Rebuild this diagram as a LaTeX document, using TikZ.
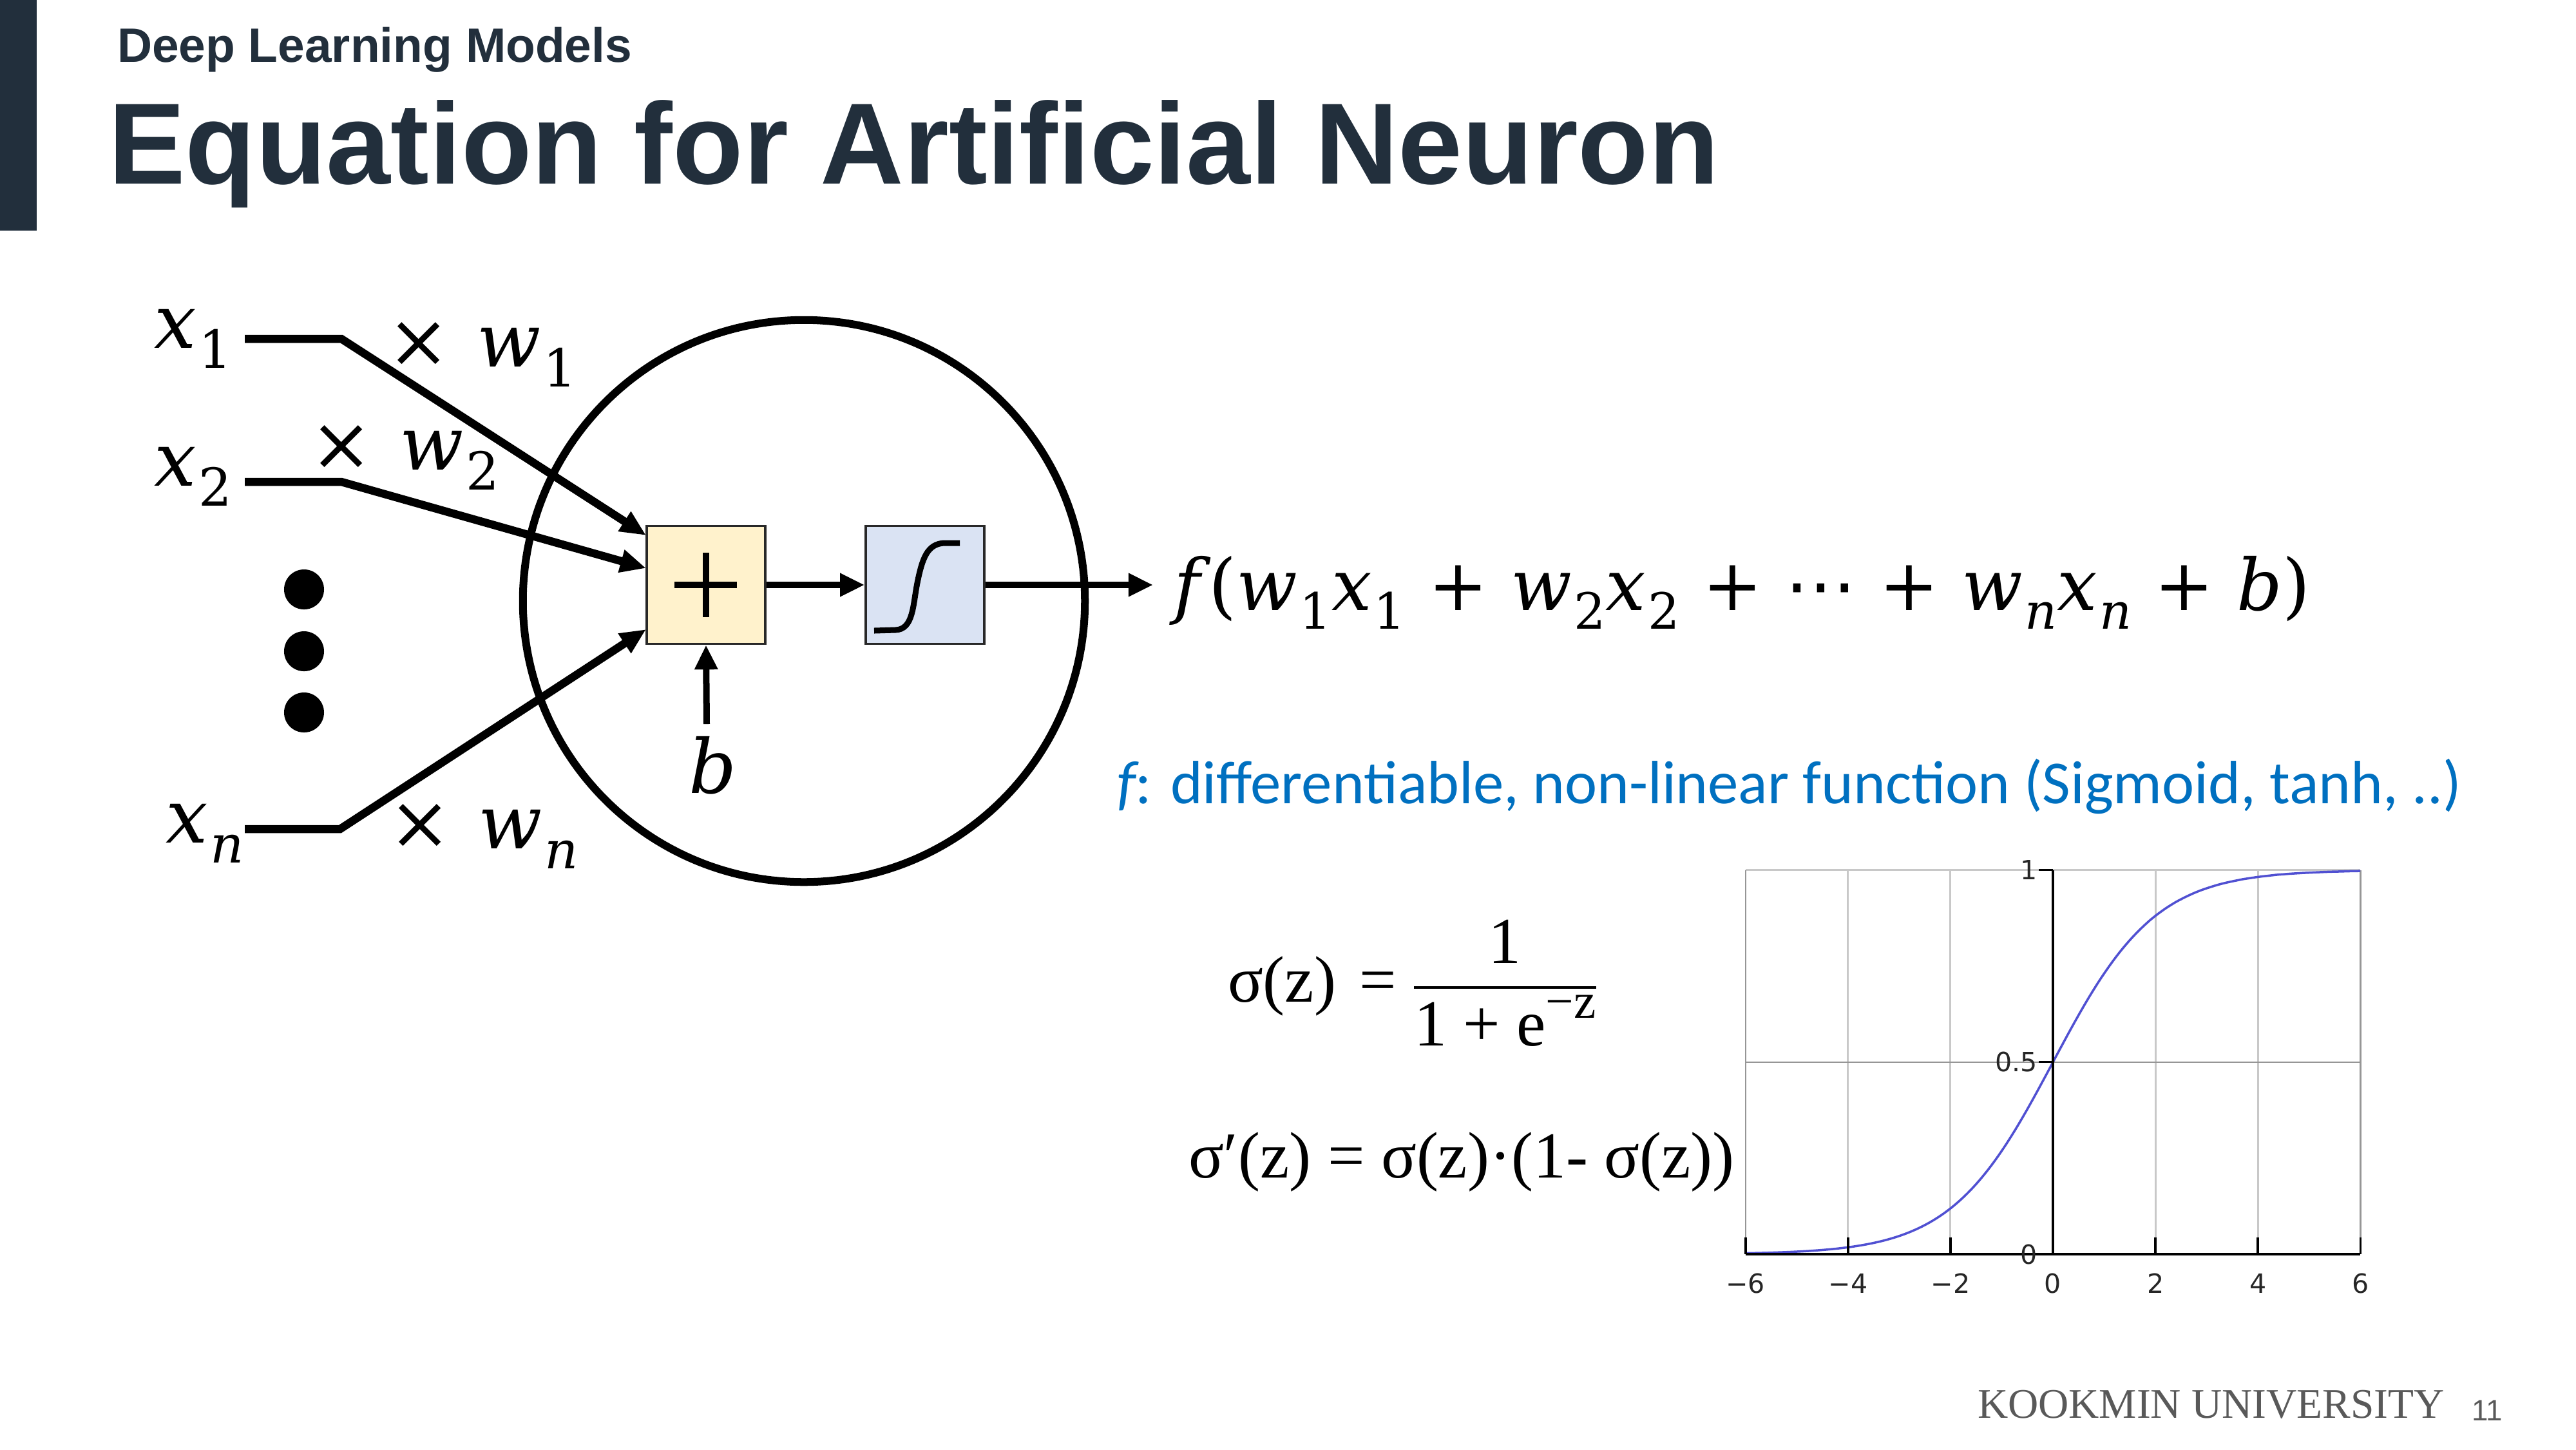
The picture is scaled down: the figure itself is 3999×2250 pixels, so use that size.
\documentclass[tikz,border=0pt]{standalone}
\usepackage{fontspec}
\usepackage{amsmath}
\usetikzlibrary{arrows.meta,calc}
\newfontfamily\hfont{Liberation Sans}
\newfontfamily\cfont{Liberation Serif}
\newfontfamily\blfont{Carlito}
\newfontfamily\dvfont{DejaVu Sans}
\newfontfamily\dvs{DejaVu Serif}
\newcommand\mv[1]{{\itshape #1}}
\newcommand\sbs[1]{\kern0.03em\raisebox{-0.27em}{\fontsize{0.7\dimexpr\fontdimen6\font\relax}{1em}\selectfont #1}}
\definecolor{titlecol}{RGB}{34,47,60}
\definecolor{sumfill}{RGB}{255,242,204}
\definecolor{actfill}{RGB}{218,227,243}
\definecolor{boxedge}{RGB}{40,40,40}
\definecolor{fblue}{RGB}{0,112,192}
\definecolor{gridlight}{RGB}{200,200,200}
\definecolor{griddark}{RGB}{150,150,150}
\definecolor{curveblue}{RGB}{80,80,210}
\definecolor{footgray}{RGB}{89,89,89}
\begin{document}
\begin{tikzpicture}[x=0.01cm,y=-0.01cm,
  txt/.style={inner sep=0pt, outer sep=0pt},
  mathlbl/.style={txt, font=\dvs\fontsize{33pt}{38pt}\selectfont},
  arr/.style={line width=0.1cm, -{Triangle[length=0.38cm,width=0.34cm]}},
  inarr/.style={line width=0.125cm, -{Triangle[length=0.4cm,width=0.34cm]}},
  opbox/.style={draw=boxedge, line width=0.035cm, minimum width=1.84cm, minimum height=1.83cm, inner sep=0pt},
  dotn/.style={circle, fill=black, minimum size=0.62cm, inner sep=0pt},
  ticklbl/.style={txt, font=\dvfont\fontsize{11.7pt}{13pt}\selectfont, text=black!85},
  sigfont/.style={txt, font=\cfont\fontsize{29pt}{33pt}\selectfont},
  gridl/.style={gridlight, line width=0.03cm},
  gridd/.style={griddark, line width=0.025cm},
]
\useasboundingbox (0,0) rectangle (3999,2250);
\fill[white] (0,0) rectangle (3999,2250);
% header
\fill[titlecol] (0,0) rectangle (57,358);
\node[txt, anchor=base west, text=titlecol, font=\hfont\bfseries\fontsize{21.3pt}{24pt}\selectfont] (sub) at (182,96) {Deep Learning Models};
\node[txt, anchor=base west, text=titlecol, font=\hfont\bfseries\fontsize{51pt}{56pt}\selectfont] (title) at (168,285) {Equation for Artificial Neuron};

% neuron
\node[circle, draw, line width=0.12cm, minimum size=8.72cm, inner sep=0pt] (neuron) at (1248,933) {};

\node[mathlbl, anchor=base] (x1) at (300,540) {\mv{x}\sbs{1}};
\node[mathlbl, anchor=base] (x2) at (300,754) {\mv{x}\sbs{2}};
\node[mathlbl, anchor=base] (xn) at (318,1308) {\mv{x}\sbs{\mv{n}}};
\node[mathlbl, anchor=base] (w1) at (748,569) {×\hspace{0.36em}\mv{w}\sbs{1}};
\node[mathlbl, anchor=base] (w2) at (628,729) {×\hspace{0.36em}\mv{w}\sbs{2}};
\node[mathlbl, anchor=base] (wn) at (751,1317) {×\hspace{0.36em}\mv{w}\sbs{\mv{n}}};

\node[dotn] (d1) at (472,915) {};
\node[dotn] (d2) at (472,1011) {};
\node[dotn] (d3) at (472,1106) {};

\coordinate (x1a) at (380,526);
\coordinate (x1b) at (530,526);
\coordinate (x2a) at (380,748);
\coordinate (x2b) at (530,748);
\coordinate (xna) at (380,1287);
\coordinate (xnb) at (528,1287);
\coordinate (t1) at (1003,831);
\coordinate (t2) at (1003,882);
\coordinate (tn) at (1003,977);

\draw[inarr] (x1a) -- (x1b) -- (t1);
\draw[inarr] (x2a) -- (x2b) -- (t2);
\draw[inarr] (xna) -- (xnb) -- (tn);

\node[opbox, fill=sumfill] (sum) at (1096,908) {};
\node[opbox, fill=actfill] (act) at (1436,908) {};
\draw[line width=0.1cm] (1047,908) -- (1144,908);
\draw[line width=0.1cm] (1096,858) -- (1096,958);
\draw[line width=0.09cm] (1357,979) -- (1390,978) .. controls (1418,977) and (1417,940) .. (1424,905) .. controls (1432,865) and (1440,845) .. (1465,843) -- (1490,843);

\node[mathlbl, anchor=base] (b) at (1107,1231) {\mv{b}};
\coordinate (bs) at (1097,1124);
\draw[arr] (bs) -- (sum.south);
\draw[arr] (sum.east) -- (act.west);
\coordinate (outtip) at (1790,908);
\draw[arr] (act.east) -- (outtip);

\node[txt, anchor=base west, font=\dvs\fontsize{31.5pt}{38pt}\selectfont] (out) at (1822,947) {\mv{f}\hspace{0.12em}(\mv{w}\sbs{1}\mv{x}\sbs{1} + \mv{w}\sbs{2}\mv{x}\sbs{2} + {\dvfont ⋯} + \mv{w}\sbs{\mv{n}}\mv{x}\sbs{\mv{n}} + \mv{b})};

\node[txt, anchor=base west, text=fblue, font=\blfont\fontsize{27pt}{30pt}\selectfont] (fdesc) at (1734,1247) {\itshape f\upshape: differentiable, non-linear function (Sigmoid, tanh, ..)};

% sigmoid formulas
\node[sigfont, anchor=base west] (sig) at (1906,1555) {σ(z)\hspace{0.36em}=\hspace{0.22em}$\dfrac{\text{1}}{\text{1 + e\raisebox{0.42em}{\fontsize{22pt}{24pt}\selectfont −z}}}$};
\node[sigfont, anchor=base west] (sigp) at (1845,1828) {σ′(z) = σ(z)·(1- σ(z))};

% graph
\begin{scope}[shift={(3187,1947)}, x=0.795cm, y=5.96cm]
  \draw[gridl] (-6,1) -- (6,1);
  \foreach \g in {-4,-2,2,4} \draw[gridl] (\g,0) -- (\g,1);
  \draw[gridd] (-6,0) -- (-6,1);
  \draw[gridd] (6,0) -- (6,1);
  \draw[gridd] (-6,0.5) -- (6,0.5);
  \draw[curveblue, line width=0.035cm] plot[domain=-6:6, samples=121, smooth] (\x,{1/(1+exp(-\x))});
  \draw[black, line width=0.045cm] (-6,0) -- (6,0);
  \draw[black, line width=0.04cm] (0,0) -- (0,1);
  \foreach \g in {-6,-4,-2,2,4,6} \draw[line width=0.035cm] (\g,0) -- (\g,0.044);
  \foreach \v in {0,0.5,1} \draw[line width=0.03cm] (0,\v) -- (-0.28,\v);
  \node[ticklbl] (xla) at (-6,-0.076) {−6};
  \node[ticklbl] (xlb) at (-4,-0.076) {−4};
  \node[ticklbl] (xlc) at (-2,-0.076) {−2};
  \node[ticklbl] (xld) at (0,-0.076) {0};
  \node[ticklbl] (xle) at (2,-0.076) {2};
  \node[ticklbl] (xlf) at (4,-0.076) {4};
  \node[ticklbl] (xlg) at (6,-0.076) {6};
  \node[ticklbl, anchor=east] (yla) at (-0.3,0) {0};
  \node[ticklbl, anchor=east] (ylb) at (-0.3,0.5) {0.5};
  \node[ticklbl, anchor=east] (ylc) at (-0.3,1) {1};
\end{scope}

% footer
\node[txt, anchor=base west, text=footgray, font=\cfont\fontsize{18.6pt}{20pt}\selectfont] (kmu) at (3070,2201) {KOOKMIN UNIVERSITY};
\node[txt, anchor=base west, text=footgray, font=\hfont\fontsize{13pt}{15pt}\selectfont] (pg) at (3837,2205) {11};
\end{tikzpicture}
\end{document}
